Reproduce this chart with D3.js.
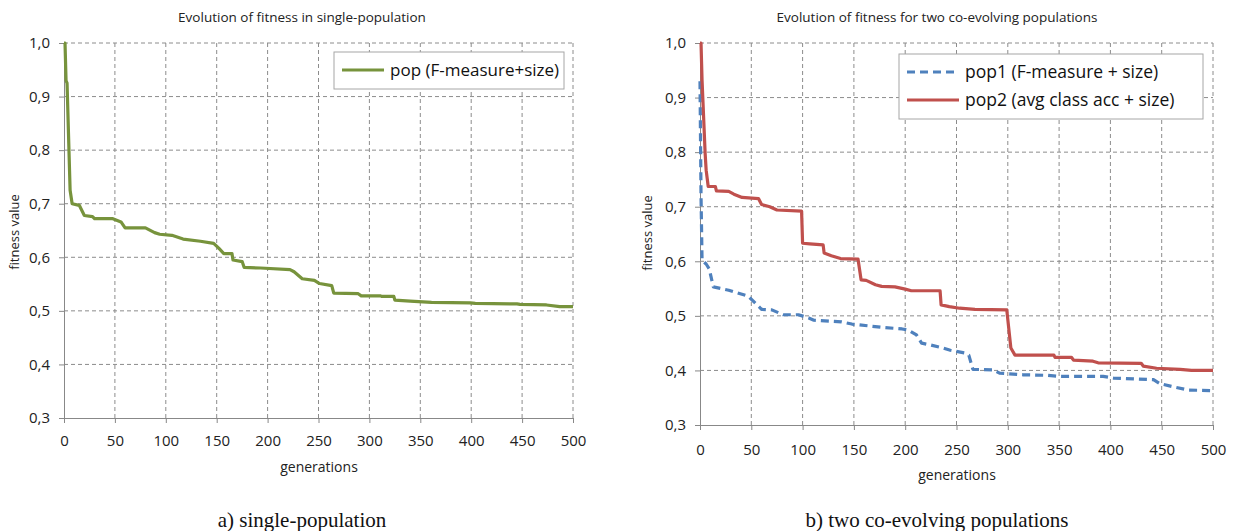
<!DOCTYPE html>
<html>
<head>
<meta charset="utf-8">
<script src="https://cdn.jsdelivr.net/npm/d3@7"></script>
<style>
  body { margin: 0; background: #fff; }
  svg { display: block; }
  .tick text { font-family: "Open Sans", sans-serif; }
</style>
</head>
<body>
<svg id="chart" width="1235" height="531"></svg>
<script>
// single population (green)
var singleGen = [0, 1, 2, 3, 6, 8, 15, 20, 28, 30, 48, 56, 60, 80, 89, 94, 106, 117, 134, 147, 152, 157, 165, 166, 175, 177, 193, 222, 226, 234, 246, 251, 263, 265, 289, 292, 311, 312, 324, 325, 340, 361, 399, 404, 445, 448, 474, 487, 500];
var singleFit = [1.0, 1.0, 0.93, 0.925, 0.725, 0.70, 0.697, 0.678, 0.676, 0.672, 0.672, 0.666, 0.655, 0.655, 0.646, 0.643, 0.641, 0.634, 0.630, 0.626, 0.617, 0.607, 0.607, 0.595, 0.592, 0.581, 0.580, 0.577, 0.573, 0.560, 0.557, 0.551, 0.547, 0.533, 0.532, 0.528, 0.528, 0.527, 0.527, 0.520, 0.518, 0.516, 0.515, 0.514, 0.513, 0.512, 0.511, 0.508, 0.508];

// pop1 (blue dashed)
var pop1Gen = [0, 1, 2, 6, 9, 13, 28, 47, 54, 60, 70, 81, 96, 106, 111, 138, 148, 177, 197, 203, 211, 216, 224, 237, 244, 258, 262, 266, 286, 292, 300, 315, 338, 351, 393, 403, 442, 448, 461, 476, 500];
var pop1Fit = [0.93, 0.72, 0.602, 0.595, 0.586, 0.553, 0.547, 0.536, 0.523, 0.512, 0.511, 0.502, 0.502, 0.496, 0.492, 0.489, 0.485, 0.479, 0.476, 0.474, 0.465, 0.450, 0.447, 0.441, 0.437, 0.432, 0.428, 0.402, 0.401, 0.395, 0.394, 0.392, 0.391, 0.389, 0.389, 0.386, 0.383, 0.376, 0.370, 0.364, 0.363];

// pop2 (red)
var pop2Gen = [0, 1, 2, 5, 6, 8, 15, 16, 28, 33, 41, 57, 60, 68, 75, 99, 100, 107, 120, 121, 128, 137, 154, 157, 162, 171, 177, 190, 200, 206, 234, 235, 243, 253, 268, 299, 303, 307, 345, 346, 362, 364, 383, 388, 430, 432, 445, 468, 479, 500];
var pop2Fit = [1.0, 1.0, 0.932, 0.798, 0.767, 0.737, 0.737, 0.729, 0.728, 0.723, 0.717, 0.715, 0.704, 0.700, 0.694, 0.692, 0.633, 0.632, 0.630, 0.615, 0.610, 0.605, 0.604, 0.566, 0.565, 0.557, 0.554, 0.553, 0.549, 0.546, 0.546, 0.520, 0.517, 0.514, 0.512, 0.511, 0.441, 0.428, 0.428, 0.424, 0.424, 0.419, 0.417, 0.414, 0.413, 0.408, 0.404, 0.402, 0.400, 0.400];

var xTicks = [0, 50, 100, 150, 200, 250, 300, 350, 400, 450, 500];
var yTicks = [0.3, 0.4, 0.5, 0.6, 0.7, 0.8, 0.9, 1.0];

var svg = d3.select("#chart");
var fmt = function(d) { return d3.format(".1f")(d).replace(".", ","); };

function zip(gens, fits) {
  return gens.map(function(g, i) { return {g: g, v: fits[i]}; });
}

function drawPanel(opt) {
  var x = d3.scaleLinear().domain([0, 500]).range([opt.left, opt.right]);
  var y = d3.scaleLinear().domain([0.3, 1.0]).range([opt.bottom, opt.top]);
  var g = svg.append("g");

  // grid
  g.selectAll(".vgrid").data(xTicks.slice(1)).enter().append("line")
    .attr("x1", function(d) { return x(d); }).attr("x2", function(d) { return x(d); })
    .attr("y1", opt.top).attr("y2", opt.bottom)
    .attr("stroke", "#8c8c8c").attr("stroke-width", 1).attr("stroke-dasharray", "4,3");
  g.selectAll(".hgrid").data(yTicks.slice(1)).enter().append("line")
    .attr("x1", opt.left).attr("x2", opt.right)
    .attr("y1", function(d) { return y(d); }).attr("y2", function(d) { return y(d); })
    .attr("stroke", "#8c8c8c").attr("stroke-width", 1).attr("stroke-dasharray", "4,3");

  // axes
  var xAxis = g.append("g").attr("transform", "translate(0," + opt.bottom + ")")
    .call(d3.axisBottom(x).tickValues(xTicks).tickSize(5).tickPadding(opt.xPad).tickSizeOuter(0));
  var yAxis = g.append("g").attr("transform", "translate(" + opt.left + ",0)")
    .call(d3.axisLeft(y).tickValues(yTicks).tickFormat(fmt).tickSize(5).tickPadding(9).tickSizeOuter(0));
  [xAxis, yAxis].forEach(function(a) {
    a.select(".domain").attr("stroke", "#888");
    a.selectAll(".tick line").attr("stroke", "#888");
    a.selectAll(".tick text").attr("font-size", "15px").attr("fill", "#222");
  });

  // series
  var line = d3.line().x(function(d) { return x(d.g); }).y(function(d) { return y(d.v); });
  opt.series.forEach(function(s) {
    g.append("path").datum(zip(s.gen, s.fit))
      .attr("d", line).attr("fill", "none")
      .attr("stroke", s.color).attr("stroke-width", s.width)
      .attr("stroke-dasharray", s.dash || null)
      .attr("stroke-linejoin", "round");
  });

  // titles
  g.append("text").attr("x", opt.titleX).attr("y", 22)
    .attr("text-anchor", "middle").attr("font-family", "Open Sans, sans-serif")
    .attr("font-size", "13.5px").attr("fill", "#222").text(opt.title);
  g.append("text").attr("transform", "translate(" + opt.yLabX + "," + opt.yLabY + ") rotate(-90)")
    .attr("text-anchor", "middle").attr("font-family", "Open Sans, sans-serif")
    .attr("font-size", "13px").attr("fill", "#222").text("fitness value");
  g.append("text").attr("x", opt.genX).attr("y", opt.genY)
    .attr("text-anchor", "middle").attr("font-family", "Open Sans, sans-serif")
    .attr("font-size", "14px").attr("fill", "#222").text("generations");
  g.append("text").attr("x", opt.titleX).attr("y", 527)
    .attr("text-anchor", "middle").attr("font-family", "Liberation Serif, serif")
    .attr("font-size", "21px").attr("fill", "#111").text(opt.caption);

  // legend
  var lg = g.append("g");
  lg.append("rect").attr("x", opt.legX).attr("y", opt.legY)
    .attr("width", opt.legW).attr("height", opt.series.length * 28 + 9)
    .attr("fill", "#fff").attr("stroke", "#a6a6a6");
  opt.series.forEach(function(s, i) {
    var ly = opt.legY + 18 + i * 28;
    lg.append("line").attr("x1", opt.legX + 8).attr("x2", opt.legX + 8 + opt.swatch)
      .attr("y1", ly).attr("y2", ly)
      .attr("stroke", s.color).attr("stroke-width", s.width)
      .attr("stroke-dasharray", s.dash || null);
    lg.append("text").attr("x", opt.legX + 14 + opt.swatch).attr("y", ly + 6)
      .attr("font-family", "Open Sans, sans-serif").attr("font-size", opt.legFont)
      .attr("fill", "#111").text(s.label);
  });
}

drawPanel({
  left: 64, right: 573, top: 43, bottom: 418, xPad: 12,
  title: "Evolution of fitness in single-population", titleX: 302,
  caption: "a) single-population", yLabX: 19, yLabY: 232, genX: 319, genY: 472,
  legX: 334, legY: 52, legW: 230, swatch: 42, legFont: "17px",
  series: [
    {gen: singleGen, fit: singleFit, color: "#77933C", width: 3.2, label: "pop (F-measure+size)"}
  ]
});

drawPanel({
  left: 700, right: 1213, top: 43, bottom: 425, xPad: 14,
  title: "Evolution of fitness for two co-evolving populations", titleX: 937,
  caption: "b) two co-evolving populations", yLabX: 652, yLabY: 233, genX: 957, genY: 480,
  legX: 899, legY: 54, legW: 304, swatch: 52, legFont: "17.5px",
  series: [
    {gen: pop1Gen, fit: pop1Fit, color: "#4F81BD", width: 3.2, dash: "8,5", label: "pop1 (F-measure + size)"},
    {gen: pop2Gen, fit: pop2Fit, color: "#C0504D", width: 3.2, label: "pop2 (avg class acc + size)"}
  ]
});
</script>
</body>
</html>
